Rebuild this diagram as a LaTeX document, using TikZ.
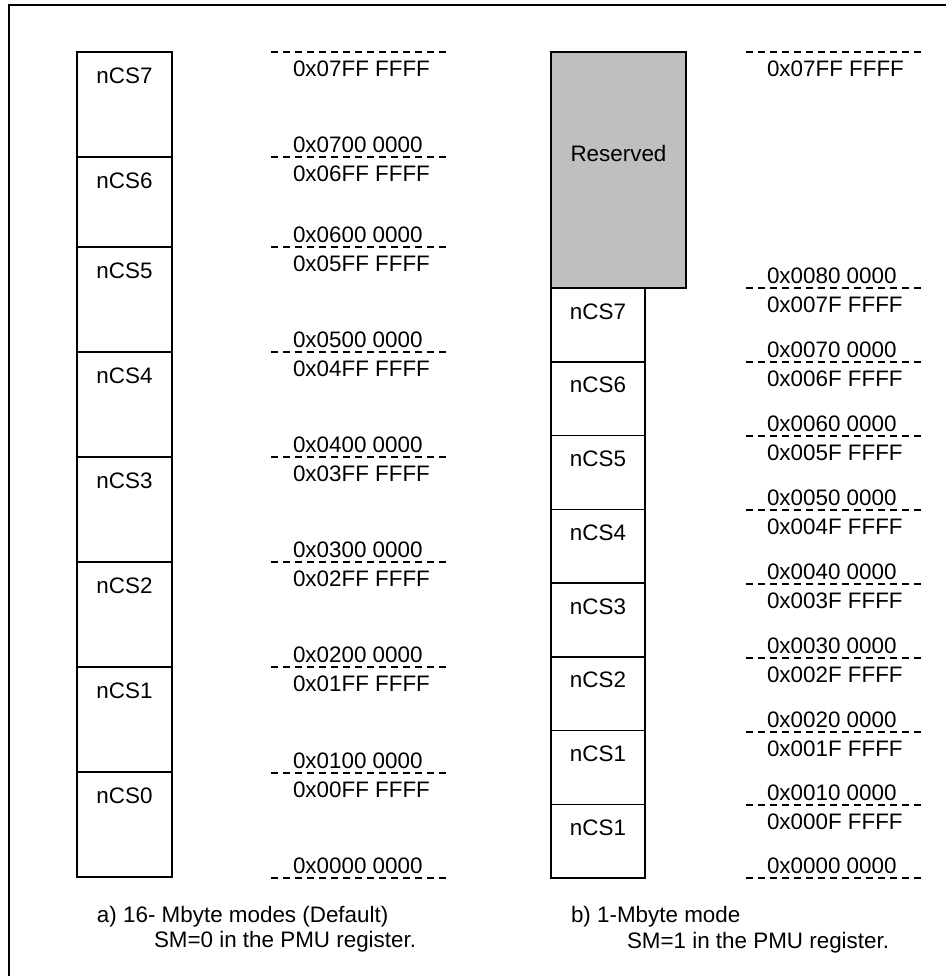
\documentclass[tikz,border=0pt]{standalone}
\usepackage{fontspec}
\setmainfont{Liberation Sans}
\usetikzlibrary{positioning}

\begin{document}
\begin{tikzpicture}[
    x=0.5pt, y=-0.5pt,
    every node/.style={
        font=\fontsize{11.2}{13.4}\selectfont,
        inner sep=0pt,
        outer sep=0pt
    },
    blk/.style={draw, line width=0.75pt, minimum width=47.5pt},
    rsv/.style={draw, line width=0.75pt, fill=black!25,
        minimum width=67.5pt, minimum height=118pt},
    addr/.style={dashed, dash pattern=on 3.5pt off 2.5pt, line width=0.6pt},
    val/.style={anchor=base west},
    frame/.style={line width=1pt}
]
\useasboundingbox (0,0) rectangle (946,976);

% ------------------------
% Outer frame
% ------------------------
\draw[frame] (9,976) -- (9,5) -- (946,5);

% ------------------------
% a) 16-Mbyte map
% ------------------------
\node[blk, minimum height=52.5pt, anchor=north west] (a7) at (77,52) {};
\node[blk, minimum height=45pt, below=0pt of a7] (a6) {};
\node[blk, minimum height=52.5pt, below=0pt of a6] (a5) {};
\node[blk, minimum height=52.5pt, below=0pt of a5] (a4) {};
\node[blk, minimum height=52.5pt, below=0pt of a4] (a3) {};
\node[blk, minimum height=52.5pt, below=0pt of a3] (a2) {};
\node[blk, minimum height=52.5pt, below=0pt of a2] (a1) {};
\node[blk, minimum height=52.5pt, below=0pt of a1] (a0) {};

\node[anchor=base] (la7) at ([yshift=-15.5pt]a7.north) {nCS7};
\node[anchor=base] (la6) at ([yshift=-15.5pt]a6.north) {nCS6};
\node[anchor=base] (la5) at ([yshift=-15.5pt]a5.north) {nCS5};
\node[anchor=base] (la4) at ([yshift=-15.5pt]a4.north) {nCS4};
\node[anchor=base] (la3) at ([yshift=-15.5pt]a3.north) {nCS3};
\node[anchor=base] (la2) at ([yshift=-15.5pt]a2.north) {nCS2};
\node[anchor=base] (la1) at ([yshift=-15.5pt]a1.north) {nCS1};
\node[anchor=base] (la0) at ([yshift=-15.5pt]a0.north) {nCS0};

% ------------------------
% a) addresses
% ------------------------
\draw[addr] (271,52) -- (450,52);
\node[val] (ta7e) at (293,76) {0x07FF FFFF};
\draw[addr] (271,157) -- (450,157);
\node[val] (ta7s) at (293,152) {0x0700 0000};
\node[val] (ta6e) at (293,181) {0x06FF FFFF};
\draw[addr] (271,247) -- (450,247);
\node[val] (ta6s) at (293,242) {0x0600 0000};
\node[val] (ta5e) at (293,271) {0x05FF FFFF};
\draw[addr] (271,352) -- (450,352);
\node[val] (ta5s) at (293,347) {0x0500 0000};
\node[val] (ta4e) at (293,376) {0x04FF FFFF};
\draw[addr] (271,457) -- (450,457);
\node[val] (ta4s) at (293,452) {0x0400 0000};
\node[val] (ta3e) at (293,481) {0x03FF FFFF};
\draw[addr] (271,562) -- (450,562);
\node[val] (ta3s) at (293,557) {0x0300 0000};
\node[val] (ta2e) at (293,586) {0x02FF FFFF};
\draw[addr] (271,667) -- (450,667);
\node[val] (ta2s) at (293,662) {0x0200 0000};
\node[val] (ta1e) at (293,691) {0x01FF FFFF};
\draw[addr] (271,773) -- (450,773);
\node[val] (ta1s) at (293,768) {0x0100 0000};
\node[val] (ta0e) at (293,797) {0x00FF FFFF};
\draw[addr] (271,878) -- (450,878);
\node[val] (ta0s) at (293,873) {0x0000 0000};

% ------------------------
% b) 1-Mbyte map
% ------------------------
\node[rsv, anchor=north west] (rsv) at (551,52) {};
\node[anchor=base] (lrsv) at ([yshift=-54.5pt]rsv.north) {Reserved};

\node[blk, minimum width=47pt, minimum height=36.875pt, anchor=north west] (b7) at (rsv.south west) {};
\node[blk, minimum width=47pt, minimum height=36.875pt, below=0pt of b7] (b6) {};
\node[blk, minimum width=47pt, minimum height=36.875pt, below=0pt of b6] (b5) {};
\node[blk, minimum width=47pt, minimum height=36.875pt, below=0pt of b5] (b4) {};
\node[blk, minimum width=47pt, minimum height=36.875pt, below=0pt of b4] (b3) {};
\node[blk, minimum width=47pt, minimum height=36.875pt, below=0pt of b3] (b2) {};
\node[blk, minimum width=47pt, minimum height=36.875pt, below=0pt of b2] (b1) {};
\node[blk, minimum width=47pt, minimum height=36.875pt, below=0pt of b1] (b0) {};

\node[anchor=base] (lb7) at ([yshift=-15.5pt]b7.north) {nCS7};
\node[anchor=base] (lb6) at ([yshift=-15.5pt]b6.north) {nCS6};
\node[anchor=base] (lb5) at ([yshift=-15.5pt]b5.north) {nCS5};
\node[anchor=base] (lb4) at ([yshift=-15.5pt]b4.north) {nCS4};
\node[anchor=base] (lb3) at ([yshift=-15.5pt]b3.north) {nCS3};
\node[anchor=base] (lb2) at ([yshift=-15.5pt]b2.north) {nCS2};
\node[anchor=base] (lb1) at ([yshift=-15.5pt]b1.north) {nCS1};
\node[anchor=base] (lb0) at ([yshift=-15.5pt]b0.north) {nCS1};

% ------------------------
% b) addresses
% ------------------------
\draw[addr] (746,52) -- (924,52);
\node[val] (tbre) at (767,76) {0x07FF FFFF};
\draw[addr] (746,288) -- (924,288);
\node[val] (tbrs) at (767,283) {0x0080 0000};
\node[val] (tb7e) at (767,312) {0x007F FFFF};
\draw[addr] (746,362) -- (924,362);
\node[val] (tb7s) at (767,357) {0x0070 0000};
\node[val] (tb6e) at (767,386) {0x006F FFFF};
\draw[addr] (746,436) -- (924,436);
\node[val] (tb6s) at (767,431) {0x0060 0000};
\node[val] (tb5e) at (767,460) {0x005F FFFF};
\draw[addr] (746,510) -- (924,510);
\node[val] (tb5s) at (767,505) {0x0050 0000};
\node[val] (tb4e) at (767,534) {0x004F FFFF};
\draw[addr] (746,584) -- (924,584);
\node[val] (tb4s) at (767,579) {0x0040 0000};
\node[val] (tb3e) at (767,608) {0x003F FFFF};
\draw[addr] (746,658) -- (924,658);
\node[val] (tb3s) at (767,653) {0x0030 0000};
\node[val] (tb2e) at (767,682) {0x002F FFFF};
\draw[addr] (746,732) -- (924,732);
\node[val] (tb2s) at (767,727) {0x0020 0000};
\node[val] (tb1e) at (767,756) {0x001F FFFF};
\draw[addr] (746,805) -- (924,805);
\node[val] (tb1s) at (767,800) {0x0010 0000};
\node[val] (tb0e) at (767,829) {0x000F FFFF};
\draw[addr] (746,878) -- (924,878);
\node[val] (tb0s) at (767,873) {0x0000 0000};

% ------------------------
% Captions
% ------------------------
\node[val] (capa) at (97,922) {a) 16- Mbyte modes (Default)};
\node[val] (capa2) at (154,947) {SM=0 in the PMU register.};
\node[val] (capb) at (571,922) {b) 1-Mbyte mode};
\node[val] (capb2) at (627,948) {SM=1 in the PMU register.};

\end{tikzpicture}
\end{document}
